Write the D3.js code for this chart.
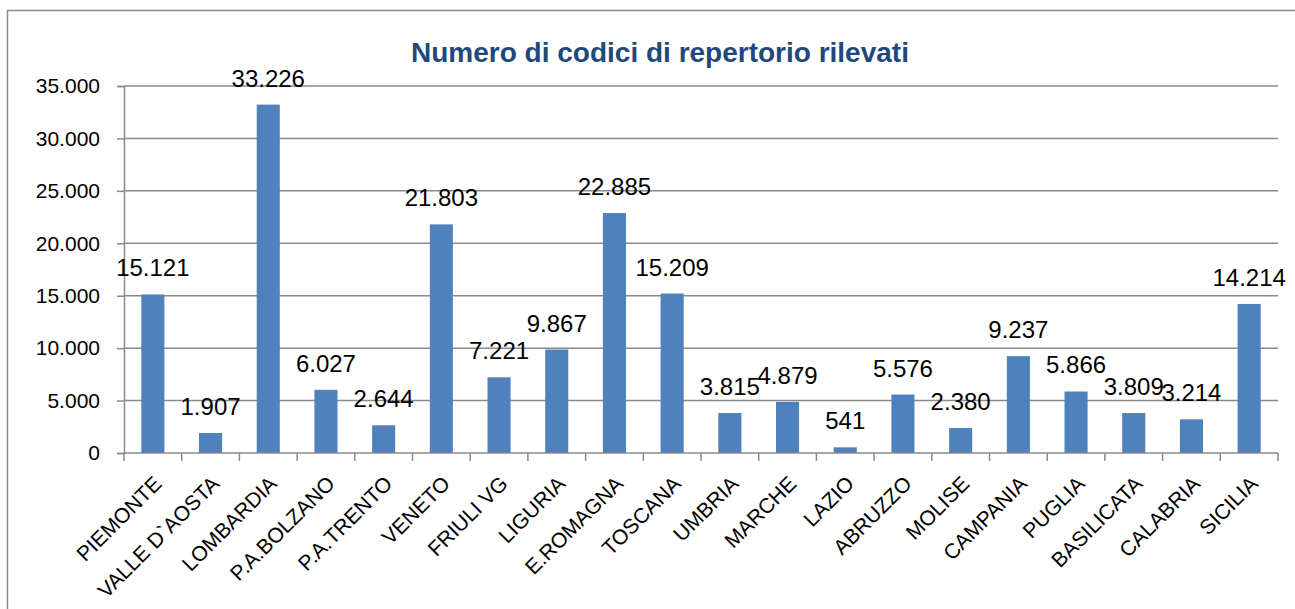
<!DOCTYPE html>
<html>
<head>
<meta charset="utf-8">
<script src="https://cdn.jsdelivr.net/npm/d3@7"></script>
<style>
  body { margin: 0; background: #fff; }
  text { font-family: "Liberation Sans", Arial, sans-serif; }
</style>
</head>
<body>
<div id="chart"></div>
<script>
// Data
var regions = ["PIEMONTE", "VALLE D`AOSTA", "LOMBARDIA", "P.A.BOLZANO", "P.A.TRENTO",
  "VENETO", "FRIULI VG", "LIGURIA", "E.ROMAGNA", "TOSCANA", "UMBRIA", "MARCHE",
  "LAZIO", "ABRUZZO", "MOLISE", "CAMPANIA", "PUGLIA", "BASILICATA", "CALABRIA", "SICILIA"];
var codici = [15121, 1907, 33226, 6027, 2644, 21803, 7221, 9867, 22885, 15209, 3815, 4879,
  541, 5576, 2380, 9237, 5866, 3809, 3214, 14214];
var yTicks = [0, 5000, 10000, 15000, 20000, 25000, 30000, 35000];
var title = "Numero di codici di repertorio rilevati";

var width = 1295, height = 609;
var margin = { top: 86, right: 17, bottom: 156, left: 124 };

var it = d3.formatLocale({ decimal: ",", thousands: ".", grouping: [3], currency: ["€", ""] });
var fmt = it.format(",d");

var data = regions.map(function (r, i) { return { label: r, value: codici[i] }; });

var svg = d3.select("#chart").append("svg")
  .attr("width", width)
  .attr("height", height);

// outer frame of the chart
svg.append("rect")
  .attr("x", 7.5).attr("y", 10.5)
  .attr("width", width).attr("height", height)
  .attr("fill", "none")
  .attr("stroke", "#8c8c8c")
  .attr("stroke-width", 1.5);

var xScale = d3.scaleBand()
  .domain(regions)
  .range([margin.left, width - margin.right])
  .paddingInner(0.6)
  .paddingOuter(0.3);

// band used for ticks (full category width)
var xCat = d3.scaleBand()
  .domain(regions)
  .range([margin.left, width - margin.right]);

var yScale = d3.scaleLinear()
  .domain([0, 35000])
  .range([height - margin.bottom, margin.top]);

// gridlines
svg.append("g")
  .selectAll("line")
  .data(yTicks.slice(1))
  .join("line")
  .attr("x1", margin.left)
  .attr("x2", width - margin.right)
  .attr("y1", function (d) { return yScale(d); })
  .attr("y2", function (d) { return yScale(d); })
  .attr("stroke", "#8a8a8a")
  .attr("stroke-width", 1.5);

// y axis
svg.append("g")
  .attr("transform", "translate(" + margin.left + ",0)")
  .call(d3.axisLeft(yScale).tickValues(yTicks).tickFormat(fmt).tickSize(7).tickPadding(17))
  .call(function (g) {
    g.select(".domain").attr("stroke", "#8a8a8a").attr("stroke-width", 1.5);
    g.selectAll(".tick line").attr("stroke", "#8a8a8a").attr("stroke-width", 1.5);
    g.selectAll(".tick text")
      .attr("font-size", 21)
      .attr("fill", "#000")
      .attr("font-family", "Liberation Sans, Arial, sans-serif");
  });

// bars
svg.append("g")
  .attr("fill", "#4f81bd")
  .selectAll("rect")
  .data(data)
  .join("rect")
  .attr("x", function (d) { return xScale(d.label); })
  .attr("y", function (d) { return yScale(d.value); })
  .attr("width", xScale.bandwidth())
  .attr("height", function (d) { return yScale(0) - yScale(d.value); });

// x axis with ticks between categories
var x0 = yScale(0);
var bounds = regions.map(function (r) { return xCat(r); }).concat([width - margin.right]);
svg.append("line")
  .attr("x1", margin.left).attr("x2", width - margin.right)
  .attr("y1", x0).attr("y2", x0)
  .attr("stroke", "#8a8a8a").attr("stroke-width", 1.5);
svg.append("g")
  .selectAll("line")
  .data(bounds)
  .join("line")
  .attr("x1", function (d) { return d; })
  .attr("x2", function (d) { return d; })
  .attr("y1", x0).attr("y2", x0 + 8)
  .attr("stroke", "#8a8a8a").attr("stroke-width", 1.5);

// category labels rotated
svg.append("g")
  .selectAll("text")
  .data(regions)
  .join("text")
  .attr("transform", function (d) {
    var cx = xCat(d) + xCat.bandwidth() / 2 + 10;
    return "translate(" + cx + "," + (x0 + 32) + ") rotate(-45)";
  })
  .attr("text-anchor", "end")
  .attr("font-size", 21)
  .attr("fill", "#000")
  .text(function (d) { return d; });

// value labels
svg.append("g")
  .selectAll("text")
  .data(data)
  .join("text")
  .attr("x", function (d) { return xScale(d.label) + xScale.bandwidth() / 2; })
  .attr("y", function (d) { return yScale(d.value) - 18; })
  .attr("text-anchor", "middle")
  .attr("font-size", 24)
  .attr("fill", "#000")
  .text(function (d) { return fmt(d.value); });

// title
svg.append("text")
  .attr("x", 660)
  .attr("y", 62)
  .attr("text-anchor", "middle")
  .attr("font-size", 28)
  .attr("font-weight", "bold")
  .attr("fill", "#1f497d")
  .text(title);
</script>
</body>
</html>
